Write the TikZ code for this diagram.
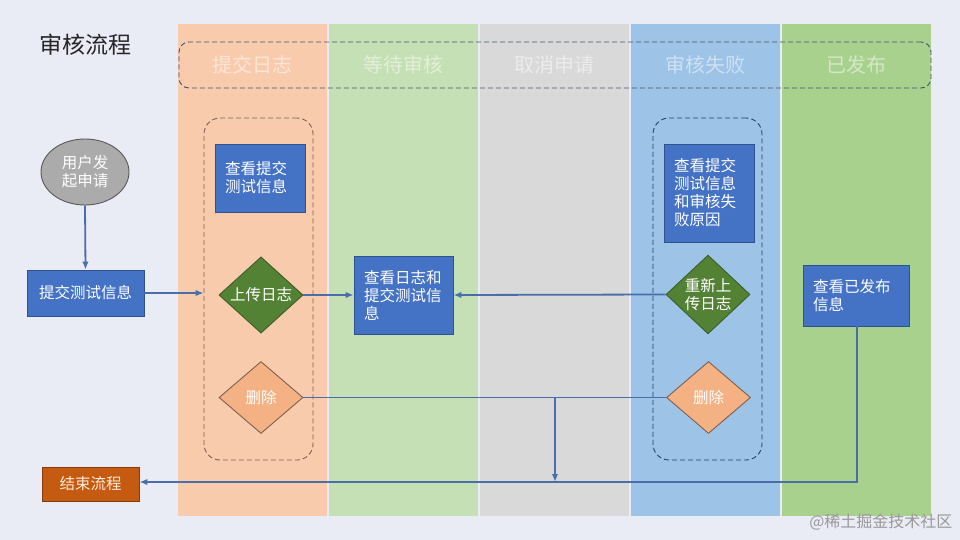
\documentclass[tikz,border=0pt]{standalone}
\usepackage{fontspec}
\setmainfont{Noto Sans CJK SC}
\usetikzlibrary{shapes.geometric,arrows.meta}
\definecolor{bgc}{HTML}{E9EBF5}
\definecolor{laneA}{HTML}{F8CBAD}
\definecolor{laneB}{HTML}{C5E0B4}
\definecolor{laneC}{HTML}{D9D9D9}
\definecolor{laneD}{HTML}{9DC3E6}
\definecolor{laneE}{HTML}{A9D18E}
\definecolor{boxfill}{HTML}{4472C4}
\definecolor{boxline}{HTML}{2F528F}
\definecolor{gdfill}{HTML}{548235}
\definecolor{gdline}{HTML}{3B5E26}
\definecolor{odfill}{HTML}{F4B183}
\definecolor{odline}{HTML}{7F6050}
\definecolor{endfill}{HTML}{C55A11}
\definecolor{endline}{HTML}{843C0C}
\definecolor{conn}{HTML}{4A6EAA}
\definecolor{hdrline}{HTML}{46526A}
\begin{document}
\begin{tikzpicture}[x=1pt,y=-1pt,
  every node/.style={font=\fontsize{15.5}{18}\selectfont},
  bluebox/.style={rectangle, fill=boxfill, draw=boxline, line width=0.9pt, text=white, align=left, inner sep=0pt},
  gdia/.style={diamond, fill=gdfill, draw=gdline, line width=0.9pt, text=white, align=center, inner sep=0pt, minimum width=84pt, minimum height=74pt},
  odia/.style={diamond, fill=odfill, draw=odline, line width=0.9pt, text=white, align=center, inner sep=0pt, minimum width=84pt, minimum height=72pt},
  hdrtext/.style={text=white, text opacity=0.5, font=\fontsize{20}{24}\selectfont},
  cont/.style={draw, dashed, dash pattern=on 5pt off 3pt, line width=0.9pt, rounded corners=16pt, inner sep=0pt, minimum width=109pt, minimum height=342pt},
  conn/.style={draw=conn, line width=1.8pt},
  arr/.style={conn, -{Latex[length=8pt,width=6.5pt]}}
]
\fill[bgc] (0,0) rectangle (960,540);
% lanes
\fill[laneA] (178,24) rectangle (327,516);
\fill[laneB] (329,24) rectangle (478,516);
\fill[laneC] (480,24) rectangle (629,516);
\fill[laneD] (631,24) rectangle (780,516);
\fill[laneE] (782,24) rectangle (931,516);
% title
\node[anchor=west, text=black!85, font=\fontsize{23}{27}\selectfont] (title) at (36,45) {审核流程};
% header
\node[draw=hdrline, dashed, dash pattern=on 5pt off 3pt, line width=0.9pt, rounded corners=10pt, minimum width=752pt, minimum height=46pt, inner sep=0pt] (hdr) at (555,65) {};
\node[hdrtext] (h1) at (252.5,65) {提交日志};
\node[hdrtext] (h2) at (403.5,65) {等待审核};
\node[hdrtext] (h3) at (554.5,65) {取消申请};
\node[hdrtext] (h4) at (705.5,65) {审核失败};
\node[hdrtext] (h5) at (856.5,65) {已发布};
% containers
\node[cont, draw=odline] (cL) at (258.5,289) {};
\node[cont, draw=boxline!80!black] (cR) at (707.5,289) {};
% start ellipse
\node[ellipse, fill=black!33, draw=black!65, line width=0.9pt, text=white, align=center, minimum width=88pt, minimum height=66pt, inner sep=0pt] (start) at (85,172) {用户发\\起申请};
\node[bluebox, align=center, minimum width=117pt, minimum height=46pt] (submit) at (85.5,293) {提交测试信息};
% left lane
\node[bluebox, minimum width=90pt, minimum height=68pt, text width=70pt] (view1) at (260,178) {查看提交\\测试信息};
\node[gdia] (upload) at (261,295) {上传日志};
\node[odia] (del1) at (261,397.5) {删除};
% middle
\node[bluebox, minimum width=99pt, minimum height=78pt, text width=79pt] (view2) at (403.5,295) {查看日志和\\提交测试信\\息};
% right lane
\node[bluebox, minimum width=90pt, minimum height=98pt, text width=70pt] (view3) at (709,193) {查看提交\\测试信息\\和审核失\\败原因};
\node[gdia] (reup) at (708,294.5) {重新上\\传日志};
\node[odia] (del2) at (708.5,397.5) {删除};
% published
\node[bluebox, minimum width=106pt, minimum height=61pt, text width=86pt] (view4) at (856,295.5) {查看已发布\\信息};
% end
\node[rectangle, fill=endfill, draw=endline, line width=0.9pt, text=orange!15, minimum width=97pt, minimum height=34pt, inner sep=0pt] (end) at (90.5,484) {结束流程};
% connectors
\draw[arr] (start.south) -- (submit.north);
\draw[arr] (submit.east) -- (submit.east -| cL.west);
\draw[arr] (upload.east) -- (view2.west);
\draw[arr] (reup.west) -- (view2.east);
\draw[conn] (del1.east) -- (del2.west);
\coordinate (junc) at (555,397.5);
\coordinate (jend) at (555,482);
\draw[arr] (junc) -- (jend);
\coordinate (turn) at (857,482);
\draw[arr] (view4.south -| turn) -- (turn) -- (turn -| end.east);
% watermark
\node[anchor=east, text=black!40, font=\fontsize{16}{18}\selectfont] (wm) at (956,522) {@稀土掘金技术社区};
\end{tikzpicture}
\end{document}
